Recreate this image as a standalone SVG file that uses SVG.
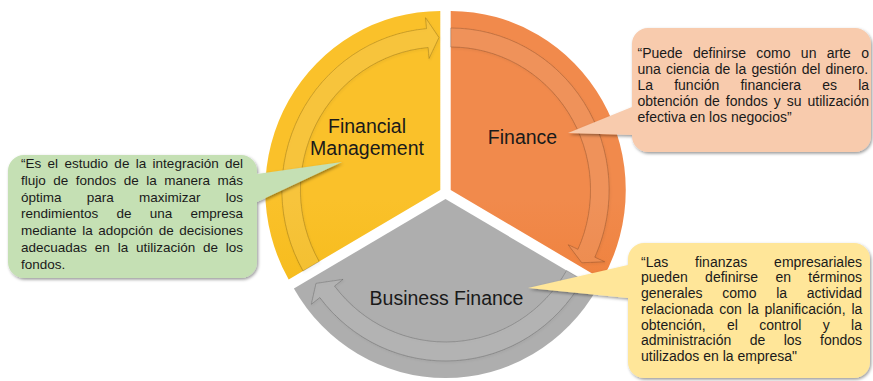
<svg xmlns="http://www.w3.org/2000/svg" width="873" height="381" viewBox="0 0 873 381">
  <style>
    .lbl { font-family: "Liberation Sans", Arial, sans-serif; font-size: 19.5px; fill: #1a1a1a; text-anchor: middle; }
    .txt { font-family: "Liberation Sans", Arial, sans-serif; font-size: 14px; fill: #1a1a1a; }
    .txt-g { font-family: "Liberation Sans", Arial, sans-serif; font-size: 13.5px; fill: #1a1a1a; }
    .arrow { fill: #ffffff; fill-opacity: 0.07; stroke: #000000; stroke-opacity: 0.22; stroke-width: 0.8; filter: url(#arrowShadow); }
    .callout { filter: url(#boxShadow); }
  </style>
  <defs>
    <linearGradient id="gYellow" gradientUnits="userSpaceOnUse" x1="0" y1="10" x2="0" y2="285">
      <stop offset="0" stop-color="#FAC12A"/>
      <stop offset="1" stop-color="#EDB100"/>
    </linearGradient>
    <linearGradient id="gOrange" gradientUnits="userSpaceOnUse" x1="0" y1="10" x2="0" y2="285">
      <stop offset="0" stop-color="#F18A4C"/>
      <stop offset="1" stop-color="#EA6F1E"/>
    </linearGradient>
    <linearGradient id="gGray" gradientUnits="userSpaceOnUse" x1="0" y1="199" x2="0" y2="378">
      <stop offset="0" stop-color="#AEAEAE"/>
      <stop offset="1" stop-color="#A6A6A6"/>
    </linearGradient>
    <filter id="arrowShadow" x="-10%" y="-10%" width="120%" height="120%">
      <feDropShadow dx="0.8" dy="1.2" stdDeviation="1" flood-color="#000000" flood-opacity="0.4"/>
    </filter>
    <filter id="boxShadow" x="-10%" y="-10%" width="120%" height="125%">
      <feDropShadow dx="1.2" dy="1.6" stdDeviation="1.4" flood-color="#000000" flood-opacity="0.4"/>
    </filter>
  </defs>

  <g id="node-financial-management">
    <path transform="translate(440.3,190) scale(0.978,1)" d="M0,0 L-155.02,89.5 A179,179 0 0 1 0,-179 Z" fill="url(#gYellow)"/>
    <text class="lbl" x="367" y="133">Financial</text>
    <text class="lbl" x="367" y="155">Management</text>
  </g>

  <g id="node-finance">
    <path transform="translate(450.7,190) scale(0.978,1)" d="M0,0 L0,-179 A179,179 0 0 1 155.02,89.5 Z" fill="url(#gOrange)"/>
    <text class="lbl" x="522.5" y="144">Finance</text>
  </g>

  <g id="node-business-finance">
    <path transform="translate(445.5,199) scale(0.978,1)" d="M0,0 L155.02,89.5 A179,179 0 0 1 -155.02,89.5 Z" fill="url(#gGray)"/>
    <text class="lbl" x="446.5" y="305">Business Finance</text>
  </g>

  <g id="connectors">
    <path class="arrow" transform="translate(440.3,190) scale(0.978,1)" d="M-140.30,81 A162,162 0 0 1 -14.12,-161.38 L-15.08,-172.34 L-1.33,-152.49 L-11.50,-131.50 L-12.46,-142.46 A143,143 0 0 0 -123.84,71.5 Z"/>
    <path class="arrow" transform="translate(450.7,190) scale(0.978,1)" d="M0,-162 A162,162 0 0 1 147.41,67.18 L157.42,71.74 L134.02,72.77 L120.11,54.74 L130.12,59.30 A143,143 0 0 0 0,-143 Z"/>
    <path class="arrow" transform="translate(445.5,199) scale(0.978,1)" d="M140.30,81 A162,162 0 0 1 -128.52,98.62 L-137.25,105.32 L-132.41,84.36 L-104.72,80.36 L-113.45,87.05 A143,143 0 0 0 123.84,71.5 Z"/>
  </g>

  <g id="callout-financial-management">
    <path class="callout" d="M24,155 H241 A16,16 0 0 1 257,171 V174 L342,162 L257,202 V262 A16,16 0 0 1 241,278 H24 A16,16 0 0 1 8,262 V171 A16,16 0 0 1 24,155 Z" fill="#C5E0B4"/>
    <text class="txt-g" x="21" y="168" word-spacing="2.61">“Es el estudio de la integración del</text>
    <text class="txt-g" x="21" y="184.8" word-spacing="3.73">flujo de fondos de la manera más</text>
    <text class="txt-g" x="21" y="201.6" word-spacing="21.49">óptima para maximizar los</text>
    <text class="txt-g" x="21" y="218.4" word-spacing="14.47">rendimientos de una empresa</text>
    <text class="txt-g" x="21" y="235.2" word-spacing="1.85">mediante la adopción de decisiones</text>
    <text class="txt-g" x="21" y="252" word-spacing="4.03">adecuadas en la utilización de los</text>
    <text class="txt-g" x="21" y="268.8">fondos.</text>
  </g>

  <g id="callout-finance">
    <path class="callout" d="M648,28 H855 A16,16 0 0 1 871,44 V136 A16,16 0 0 1 855,152 H648 A16,16 0 0 1 632,136 V135 L568,133 L632,107 V44 A16,16 0 0 1 648,28 Z" fill="#F8CBAD"/>
    <text class="txt" x="637.5" y="58.3" word-spacing="6.46">“Puede definirse como un arte o</text>
    <text class="txt" x="637.5" y="74.2" word-spacing="1.23">una ciencia de la gestión del dinero.</text>
    <text class="txt" x="637.5" y="90" word-spacing="17.22">La función financiera es la</text>
    <text class="txt" x="637.5" y="105.9" word-spacing="2.1">obtención de fondos y su utilización</text>
    <text class="txt" x="637.5" y="121.7">efectiva en los negocios”</text>
  </g>

  <g id="callout-business-finance">
    <path class="callout" d="M644,243 H854 A16,16 0 0 1 870,259 V362 A16,16 0 0 1 854,378 H644 A16,16 0 0 1 628,362 V298 L528,288 L628,265 V259 A16,16 0 0 1 644,243 Z" fill="#FFE699"/>
    <text class="txt" x="641" y="266.7" word-spacing="22.97">“Las finanzas empresariales</text>
    <text class="txt" x="641" y="282.4" word-spacing="13.49">pueden definirse en términos</text>
    <text class="txt" x="641" y="298.1" word-spacing="15.83">generales como la actividad</text>
    <text class="txt" x="641" y="313.9" word-spacing="2.02">relacionada con la planificación, la</text>
    <text class="txt" x="641" y="329.6" word-spacing="17.51">obtención, el control y la</text>
    <text class="txt" x="641" y="345.3" word-spacing="14.53">administración de los fondos</text>
    <text class="txt" x="641" y="361">utilizados en la empresa"</text>
  </g>
</svg>
